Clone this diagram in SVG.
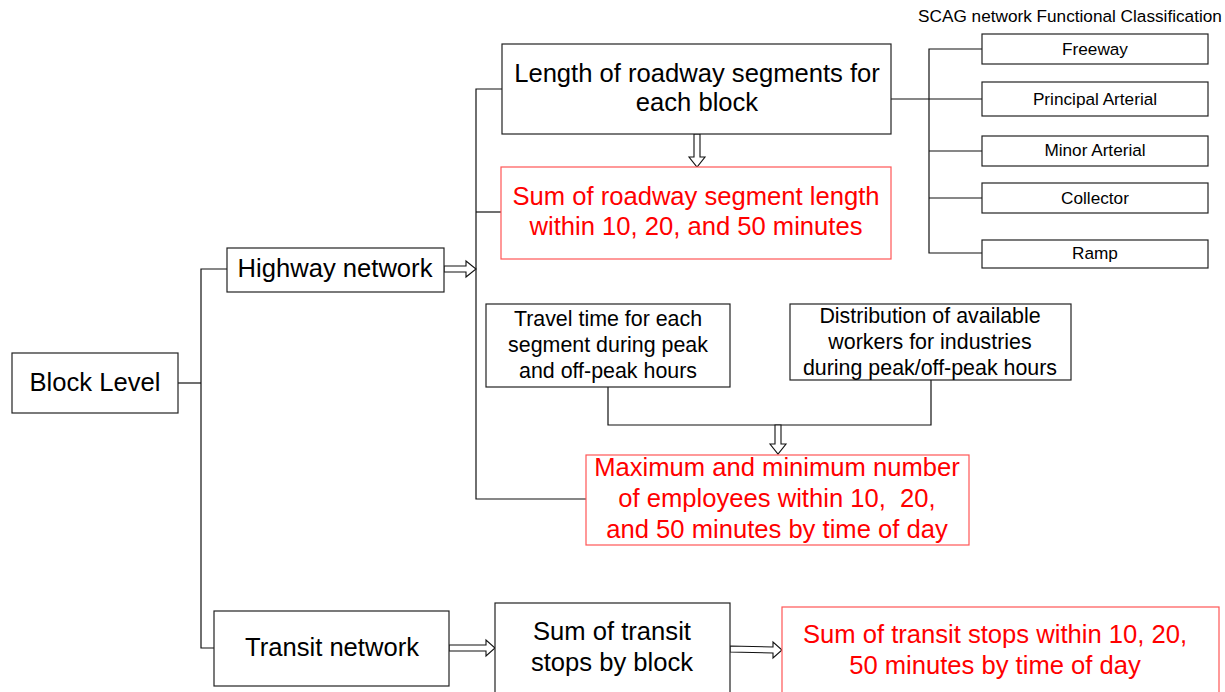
<svg xmlns="http://www.w3.org/2000/svg" width="1225" height="692" viewBox="0 0 1225 692">
  <style>
    .box { fill: #fff; stroke: #222; stroke-width: 1.2; }
    .rbox { fill: #fff; stroke: #f55; stroke-width: 1.2; }
    .ln { fill: none; stroke: #111; stroke-width: 1.2; }
    .arr { fill: #fff; stroke: #111; stroke-width: 1.1; stroke-linejoin: miter; }
    text { font-family: "Liberation Sans", Arial, sans-serif; text-anchor: middle; fill: #000; }
    .t24 { font-size: 25.6px; }
    .t20 { font-size: 21.4px; }
    .t16 { font-size: 17.2px; }
    .red { fill: #ff0000; }
  </style>

  <!-- connectors -->
  <g id="connectors">
    <!-- tree from Block Level -->
    <polyline class="ln" points="178,383 201,383"/>
    <polyline class="ln" points="227,269 201,269 201,648 214,648"/>
    <!-- highway branches -->
    <polyline class="ln" points="502,89 476,89 476,499 586,499"/>
    <polyline class="ln" points="476,212 501,212"/>
    <!-- functional classification branches -->
    <polyline class="ln" points="891,99 982,99"/>
    <polyline class="ln" points="982,49 929,49 929,253 982,253"/>
    <polyline class="ln" points="929,151 982,151"/>
    <polyline class="ln" points="929,198 982,198"/>
    <!-- travel time + distribution merge -->
    <polyline class="ln" points="608,387 608,425 931,425 931,380"/>
    <!-- hollow block arrows -->
    <polygon class="arr" points="444,266 466,266 466,261 476,269 466,277 466,272 444,272"/>
    <polygon class="arr" points="694,134 700,134 700,157 705,157 697,167 689,157 694,157"/>
    <polygon class="arr" points="775,425 781,425 781,444 786,444 778,454 770,444 775,444"/>
    <polygon class="arr" points="449,645 486,645 486,640 495,648 486,656 486,651 449,651"/>
    <polygon class="arr" points="730,646 773,647 773,642 782,650 773,658 773,653 730,652"/>
  </g>

  <g id="block-level">
    <rect class="box" x="12" y="353" width="166" height="60"/>
    <text class="t24" x="95" y="391">Block Level</text>
  </g>

  <g id="highway-network">
    <rect class="box" x="227" y="248" width="217" height="44"/>
    <text class="t24" x="335" y="277">Highway network</text>
  </g>

  <g id="segment-length">
    <rect class="box" x="502" y="44" width="389" height="90"/>
    <text class="t24" x="697" y="82">Length of roadway segments for</text>
    <text class="t24" x="697" y="111">each block</text>
  </g>

  <g id="segment-length-sum">
    <rect class="rbox" x="501" y="167" width="390" height="92"/>
    <text class="t24 red" x="696" y="205">Sum of roadway segment length</text>
    <text class="t24 red" x="696" y="235">within 10, 20, and 50 minutes</text>
  </g>

  <g id="classification-title">
    <text class="t16" x="1070" y="22">SCAG network Functional Classification</text>
  </g>
  <g id="freeway">
    <rect class="box" x="982" y="34" width="226" height="30"/>
    <text class="t16" x="1095" y="55">Freeway</text>
  </g>
  <g id="principal-arterial">
    <rect class="box" x="982" y="82" width="226" height="34"/>
    <text class="t16" x="1095" y="105">Principal Arterial</text>
  </g>
  <g id="minor-arterial">
    <rect class="box" x="982" y="136" width="226" height="30"/>
    <text class="t16" x="1095" y="156">Minor Arterial</text>
  </g>
  <g id="collector">
    <rect class="box" x="982" y="183" width="226" height="30"/>
    <text class="t16" x="1095" y="204">Collector</text>
  </g>
  <g id="ramp">
    <rect class="box" x="982" y="240" width="226" height="28"/>
    <text class="t16" x="1095" y="259">Ramp</text>
  </g>

  <g id="travel-time">
    <rect class="box" x="486" y="304" width="244" height="83"/>
    <text class="t20" x="608" y="326">Travel time for each</text>
    <text class="t20" x="608" y="352">segment during peak</text>
    <text class="t20" x="608" y="378">and off-peak hours</text>
  </g>

  <g id="worker-distribution">
    <rect class="box" x="790" y="304" width="281" height="76"/>
    <text class="t20" x="930" y="323">Distribution of available</text>
    <text class="t20" x="930" y="349">workers for industries</text>
    <text class="t20" x="930" y="375">during peak/off-peak hours</text>
  </g>

  <g id="employees">
    <rect class="rbox" x="586" y="455" width="383" height="90"/>
    <text class="t24 red" x="777" y="476">Maximum and minimum number</text>
    <text class="t24 red" x="777" y="507" xml:space="preserve">of employees within 10,  20,</text>
    <text class="t24 red" x="777" y="538">and 50 minutes by time of day</text>
  </g>

  <g id="transit-network">
    <rect class="box" x="214" y="611" width="235" height="75"/>
    <text class="t24" x="332" y="656">Transit network</text>
  </g>

  <g id="transit-stops">
    <rect class="box" x="495" y="603" width="235" height="95"/>
    <text class="t24" x="612" y="640">Sum of transit</text>
    <text class="t24" x="612" y="671">stops by block</text>
  </g>

  <g id="transit-stops-sum">
    <rect class="rbox" x="782" y="607" width="437" height="95"/>
    <text class="t24 red" x="995" y="643">Sum of transit stops within 10, 20,</text>
    <text class="t24 red" x="995" y="674">50 minutes by time of day</text>
  </g>
</svg>
